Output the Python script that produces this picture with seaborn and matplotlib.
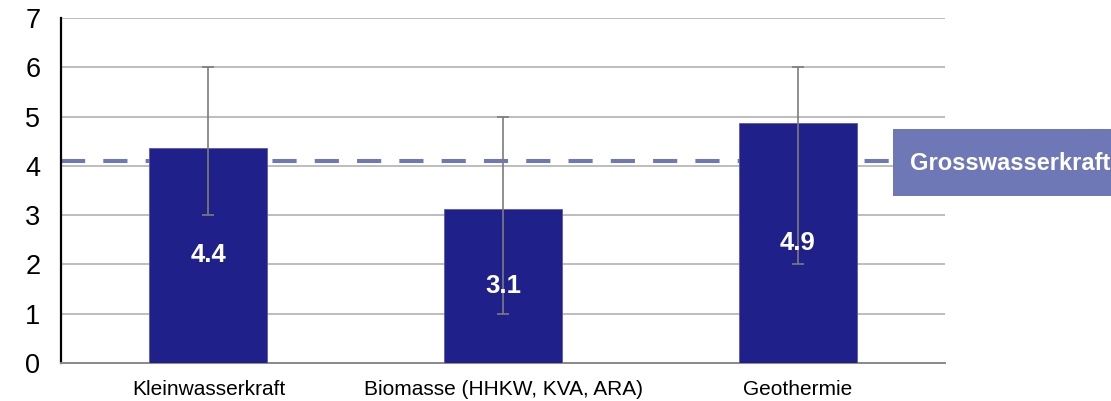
import numpy as np
import matplotlib
matplotlib.use("Agg")
import matplotlib.pyplot as plt
from matplotlib.patches import Rectangle
import seaborn as sns

# chart values
categories = ['Kleinwasserkraft', 'Biomasse (HHKW, KVA, ARA)', 'Geothermie']
values = [4.37, 3.12, 4.87]
value_labels = ['4.4', '3.1', '4.9']
err_low = [3.0, 1.0, 2.0]
err_high = [6.0, 5.0, 6.0]
reference_value = 4.1
reference_label = 'Grosswasserkraft'

BAR_COLOR = '#20208a'
REF_COLOR = '#6f78b6'
GRID_COLOR = '#b8b8b8'
ERR_COLOR = '#7c7c7c'

sns.set_style("white")
plt.rcParams['font.family'] = ['Liberation Sans', 'DejaVu Sans']

fig = plt.figure(figsize=(11.11, 4.01), dpi=100)
ax = fig.add_axes([0.055, 0.0948, 0.7956, 0.8603])

sns.barplot(x=categories, y=values, color=BAR_COLOR, width=0.4,
            saturation=1, errorbar=None, edgecolor='#5a5ab0', linewidth=0.6,
            zorder=3, ax=ax)

# value labels in the middle of each bar
ax.bar_label(ax.containers[0], labels=value_labels, label_type='center',
             color='white', fontsize=18.5, fontweight='bold', zorder=6)

# min/max range whiskers
vals = np.array(values)
yerr = [vals - np.array(err_low), np.array(err_high) - vals]
ax.errorbar(x=np.arange(len(categories)), y=vals, yerr=yerr, fmt='none',
            ecolor=ERR_COLOR, elinewidth=1.2, capsize=4.5, capthick=1.2,
            zorder=5)

# reference line for large hydro
ax.axhline(reference_value, color=REF_COLOR, linewidth=2.9,
           dashes=(6, 4.5), zorder=2)

ax.set_xlim(-0.5, len(categories) - 0.5)
ax.set_ylim(0, 7)
ax.set_yticks(range(0, 8))
ax.yaxis.grid(True, color=GRID_COLOR, linewidth=1.3, zorder=0)
ax.set_axisbelow(True)

ax.tick_params(axis='y', length=0, labelsize=19.5, pad=15, labelcolor='black')
ax.tick_params(axis='x', which='major', length=0, labelsize=15, pad=12,
               labelcolor='black')
ax.set_xticks(np.arange(-0.5, len(categories)), minor=True)
ax.tick_params(axis='x', which='minor', length=6, width=1.2,
               color='#8a8a8a', direction='out')

for side in ['top', 'right']:
    ax.spines[side].set_visible(False)
ax.spines['left'].set_color('black')
ax.spines['left'].set_linewidth(1.6)
ax.spines['bottom'].set_color('#8a8a8a')
ax.spines['bottom'].set_linewidth(1.4)
ax.set_xlabel('')
ax.set_ylabel('')

# label box for the reference line
box = Rectangle((893 / 1111, 1 - 196 / 401), 218 / 1111, 67 / 401,
                transform=fig.transFigure, facecolor=REF_COLOR,
                edgecolor='none', zorder=10)
fig.patches.append(box)
fig.text(910 / 1111, 1 - 163 / 401, reference_label, color='white',
         fontsize=17, fontweight='bold', ha='left', va='center', zorder=11)

fig.savefig('out.png', dpi=100)
